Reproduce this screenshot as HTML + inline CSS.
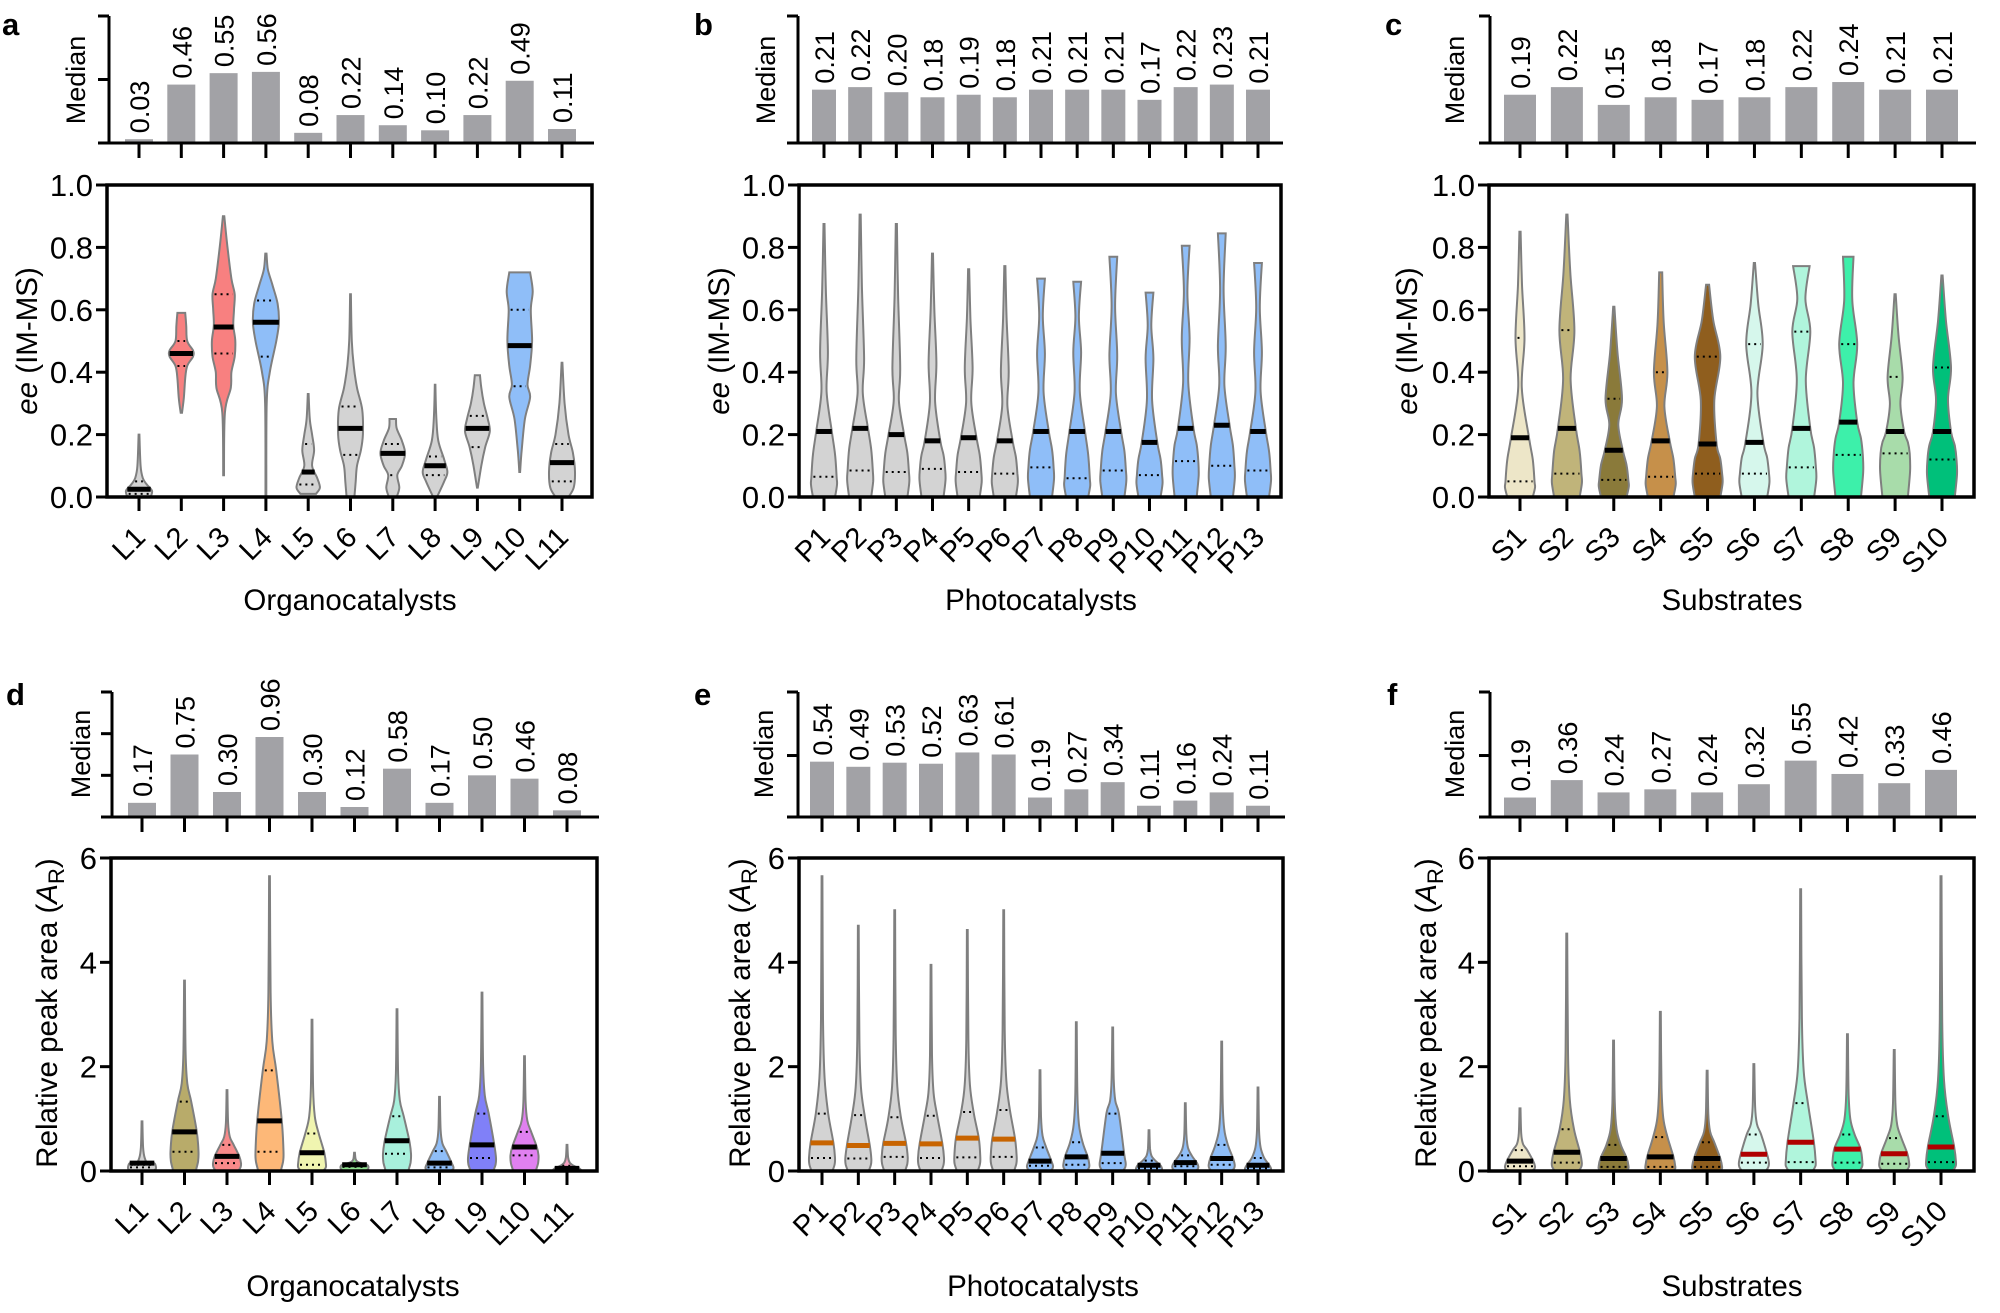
<!DOCTYPE html>
<html><head><meta charset="utf-8"><style>
html,body{margin:0;padding:0;background:#fff;}
svg{display:block;font-family:"Liberation Sans",Arial,sans-serif;}
</style></head><body>
<svg id="s" width="2000" height="1313" viewBox="0 0 2000 1313" xmlns="http://www.w3.org/2000/svg"></svg>
<script>
const S=document.getElementById('s');let out='';
function rng(n,p){return Array.from({length:n},(_,i)=>p+(i+1));}
function t(x,y,s,o){o=o||{};let a=`<text x="${x}" y="${y}" font-size="${o.fs||28}"`+(o.anchor?` text-anchor="${o.anchor}"`:'')+(o.rot!=null?` transform="rotate(${o.rot} ${x} ${y})"`:'')+(o.bold?' font-weight="bold"':'')+`>${s}</text>`;out+=a;}
function line(x1,y1,x2,y2,w,c,extra){out+=`<line x1="${x1}" y1="${y1}" x2="${x2}" y2="${y2}" stroke="${c||'#000'}" stroke-width="${w||3}" ${extra||''}/>`;}
function interp(pr,v){if(v<=pr[0][0])return pr[0][1];for(let i=1;i<pr.length;i++){if(v<=pr[i][0]){const a=pr[i-1],b=pr[i];return a[1]+(b[1]-a[1])*(v-a[0])/(b[0]-a[0]);}}return pr[pr.length-1][1];}
function spline(pts){let d=`M${pts[0][0].toFixed(1)},${pts[0][1].toFixed(1)}`;for(let i=0;i<pts.length-1;i++){const p0=pts[i-1]||pts[i],p1=pts[i],p2=pts[i+1],p3=pts[i+2]||p2;const k=6;d+=` C${(p1[0]+(p2[0]-p0[0])/k).toFixed(1)},${(p1[1]+(p2[1]-p0[1])/k).toFixed(1)} ${(p2[0]-(p3[0]-p1[0])/k).toFixed(1)},${(p2[1]-(p3[1]-p1[1])/k).toFixed(1)} ${p2[0].toFixed(1)},${p2[1].toFixed(1)}`;}return d;}
function violin(cx,Y,hw,pr,fill,med,q1,q3,mc,mw){
 const R=pr.map(p=>[cx+Math.max(p[1],0.02)*hw,Y(p[0])]);const L=pr.slice().reverse().map(p=>[cx-Math.max(p[1],0.02)*hw,Y(p[0])]);
 let d=spline(R)+` L${L[0][0].toFixed(1)},${L[0][1].toFixed(1)}`+spline(L).replace(/^M[^ C]+/,'')+'Z';
 out+=`<path d="${d}" fill="${fill}" stroke="#7f7f7f" stroke-width="2"/>`;
 [q1,q3].forEach(q=>{const w=interp(pr,q)*hw-2;if(w>2)line(cx-w,Y(q),cx+w,Y(q),2,'#000','stroke-dasharray="2,4"');});
 const w=Math.max(interp(pr,med)*hw,5);line(cx-w,Y(med),cx+w,Y(med),mw||5,mc||'#000');
}
const G='#d3d3d3',B='#8fbef8',RD='#f88080';
function profTop(mx,md,q1,q3,neck,bul,flat){return [[0,0.85],[q1*0.6,1],[q1,0.97],[(q1+md)/2,0.85],[md,0.6],[(md+q3)/2,neck],[q3,bul],[(q3+mx)/2,Math.max(0.12,bul*0.45)],[mx,flat||0.04]];}
function profBot(mx,md,q1,q3){return [[0,0.8],[q1*0.5,0.97],[q1,1],[md,0.88],[q3,0.48],[q3+(mx-q3)*0.15,0.2],[q3+(mx-q3)*0.4,0.08],[mx,0.03]];}
const RPA='Relative peak area (<tspan font-style="italic">A</tspan><tspan font-size="22" dy="7">R</tspan><tspan dy="-7">)</tspan>';
const EE='<tspan font-style="italic">ee</tspan> (IM-MS)';
const P=[
{l:'a',lx:2,ly:35,ax:109,box:[107,185,592,497],c0:139,c1:562,cats:rng(11,'L'),title:'Organocatalysts',tx:350,ty:610,ylab:EE,ylx:37,yly:341,medx:83,medy:80,bt:16,bb:143,bmax:1.0,bt2:[0.5],bw:28,hw:13,yt:[0,0.2,0.4,0.6,0.8,1.0],ymax:1,fmt:v=>v.toFixed(1),
 bars:[0.03,0.46,0.55,0.56,0.08,0.22,0.14,0.10,0.22,0.49,0.11],
 v:[
 [[[0,0.9],[0.02,1],[0.04,0.6],[0.06,0.3],[0.1,0.12],[0.2,0.03]],G,0.025,0.01,0.05],
 [[[0.27,0.05],[0.32,0.2],[0.38,0.3],[0.42,0.45],[0.45,0.9],[0.47,0.9],[0.5,0.45],[0.55,0.38],[0.59,0.3]],RD,0.46,0.42,0.50],
 [[[0.07,0.03],[0.27,0.1],[0.35,0.55],[0.4,0.6],[0.45,0.85],[0.5,0.9],[0.55,0.75],[0.6,0.8],[0.65,0.85],[0.7,0.6],[0.8,0.3],[0.9,0.05]],RD,0.545,0.46,0.65],
 [[[0,0.03],[0.3,0.06],[0.4,0.3],[0.5,0.8],[0.56,1],[0.62,0.9],[0.68,0.5],[0.73,0.15],[0.78,0.05]],B,0.56,0.45,0.63],
 [[[0.01,0.6],[0.03,0.9],[0.06,0.7],[0.1,0.3],[0.15,0.45],[0.2,0.3],[0.25,0.12],[0.33,0.03]],G,0.08,0.04,0.17],
 [[[0,0.3],[0.05,0.4],[0.1,0.5],[0.15,0.8],[0.2,0.95],[0.28,0.9],[0.35,0.5],[0.42,0.25],[0.5,0.1],[0.65,0.03]],G,0.22,0.135,0.29],
 [[[0,0.3],[0.03,0.5],[0.07,0.35],[0.1,0.7],[0.14,0.95],[0.18,0.7],[0.22,0.3],[0.25,0.25]],G,0.14,0.07,0.17],
 [[[0,0.15],[0.05,0.7],[0.08,0.95],[0.12,0.7],[0.18,0.25],[0.25,0.1],[0.36,0.02]],G,0.10,0.07,0.13],
 [[[0.03,0.03],[0.1,0.3],[0.16,0.6],[0.21,0.95],[0.25,0.8],[0.3,0.5],[0.35,0.3],[0.39,0.2]],G,0.22,0.16,0.26],
 [[[0.08,0.03],[0.15,0.15],[0.25,0.4],[0.32,0.8],[0.36,0.6],[0.42,0.8],[0.5,0.95],[0.6,0.85],[0.66,1],[0.72,0.8]],B,0.485,0.355,0.60],
 [[[0,0.5],[0.03,0.9],[0.08,1],[0.14,0.85],[0.2,0.5],[0.3,0.2],[0.43,0.03]],G,0.11,0.05,0.17]]},
{l:'b',lx:694,ly:35,ax:798,box:[799,185,1281,497],c0:824,c1:1258,cats:rng(13,'P'),title:'Photocatalysts',tx:1041,ty:610,ylab:EE,ylx:729,yly:341,medx:773,medy:80,bt:16,bb:143,bmax:0.5,bt2:[],bw:24,hw:13,yt:[0,0.2,0.4,0.6,0.8,1.0],ymax:1,fmt:v=>v.toFixed(1),
 bars:[0.21,0.22,0.20,0.18,0.19,0.18,0.21,0.21,0.21,0.17,0.22,0.23,0.21],
 v:[[.875,.21,.065,.465],[.905,.22,.085,.445],[.875,.20,.08,.415],[.78,.18,.09,.43],[.73,.19,.08,.415],[.74,.18,.075,.405],[.70,.21,.095,.46],[.69,.21,.06,.465],[.77,.21,.085,.455],[.655,.175,.07,.445],[.805,.22,.115,.51],[.845,.23,.10,.485],[.75,.21,.085,.465]].map((a,i)=>[profTop(a[0],a[1],a[2],a[3],0.2,0.3,i>=6?0.3:0.04),i>=6?B:G,a[1],a[2],a[3]])},
{l:'c',lx:1385,ly:35,ax:1490,box:[1489,185,1974,497],c0:1520,c1:1942,cats:rng(10,'S'),title:'Substrates',tx:1732,ty:610,ylab:EE,ylx:1417,yly:341,medx:1462,medy:80,bt:16,bb:143,bmax:0.5,bt2:[],bw:32,hw:15,yt:[0,0.2,0.4,0.6,0.8,1.0],ymax:1,fmt:v=>v.toFixed(1),
 bars:[0.19,0.22,0.15,0.18,0.17,0.18,0.22,0.24,0.21,0.21],
 v:[[.85,.19,.05,.51,'#ede6c8',.12,.3,.04],[.905,.22,.075,.535,'#c0b47a',.25,.5,.04],[.61,.15,.055,.315,'#8a7a3a',.3,.55,.04],[.72,.18,.065,.40,'#c6904a',.25,.45,.1],[.68,.17,.075,.45,'#8f5e1e',.45,.85,.1],[.75,.175,.075,.49,'#d6f7ec',.2,.55,.04],[.74,.22,.095,.53,'#b0f5dc',.3,.6,.55],[.77,.24,.135,.49,'#3df0aa',.35,.6,.35],[.65,.21,.14,.385,'#a8dcaa',.35,.5,.04],[.71,.21,.12,.415,'#00c07a',.4,.6,.04]].map(a=>[profTop(a[0],a[1],a[2],a[3],a[5],a[6],a[7]),a[4],a[1],a[2],a[3]])},
{l:'d',lx:6,ly:705,ax:112,box:[111,858,597,1171],c0:142,c1:567,cats:rng(11,'L'),title:'Organocatalysts',tx:353,ty:1296,ylab:RPA,ylx:57,yly:1013,medx:88,medy:754,bt:692,bb:817,bmax:1.5,bt2:[0.5,1.0],bw:28,hw:14,yt:[0,2,4,6],ymax:6,fmt:v=>v,
 bars:[0.17,0.75,0.30,0.96,0.30,0.12,0.58,0.17,0.50,0.46,0.08],
 v:[[.95,.15,.07,.12,G],[3.65,.75,.37,1.33,'#b8ab6a'],[1.55,.28,.15,.5,'#f88a8a'],[5.65,.96,.37,1.93,'#fdb878'],[2.9,.35,.12,.72,'#f0f5b0'],[.35,.12,.08,.15,'#90e090'],[3.1,.58,.33,1.05,'#a8f0dc'],[1.42,.15,.07,.38,B],[3.42,.5,.25,1.1,'#8080f8'],[2.2,.46,.3,.75,'#e080f0'],[.5,.05,.02,.1,'#f8a0c0']].map(a=>[profBot(a[0],a[1],a[2],a[3]),a[4],a[1],a[2],a[3]])},
{l:'e',lx:694,ly:705,ax:798,box:[799,858,1283,1171],c0:822,c1:1258,cats:rng(13,'P'),title:'Photocatalysts',tx:1043,ty:1296,ylab:RPA,ylx:750,yly:1013,medx:771,medy:754,bt:692,bb:817,bmax:1.22,bt2:[0.6],bw:24,hw:13,yt:[0,2,4,6],ymax:6,fmt:v=>v,
 bars:[0.54,0.49,0.53,0.52,0.63,0.61,0.19,0.27,0.34,0.11,0.16,0.24,0.11],
 v:[[5.65,.54,.25,1.1],[4.7,.49,.24,1.07],[5.0,.53,.27,1.03],[3.95,.52,.25,1.06],[4.62,.63,.26,1.13],[5.0,.61,.27,1.17],[1.93,.19,.1,.45],[2.85,.27,.12,.55],[2.75,.34,.15,1.1],[.78,.11,.05,.2],[1.3,.16,.09,.3],[2.48,.24,.12,.5],[1.6,.11,.05,.25]].map((a,i)=>[profBot(a[0],a[1],a[2],a[3]),i<6?G:B,a[1],a[2],a[3],i<6?'#c86400':'#000'])},
{l:'f',lx:1387,ly:705,ax:1490,box:[1489,858,1974,1171],c0:1520,c1:1941,cats:rng(10,'S'),title:'Substrates',tx:1732,ty:1296,ylab:RPA,ylx:1436,yly:1013,medx:1462,medy:754,bt:692,bb:817,bmax:1.22,bt2:[0.6],bw:32,hw:15,yt:[0,2,4,6],ymax:6,fmt:v=>v,
 bars:[0.19,0.36,0.24,0.27,0.24,0.32,0.55,0.42,0.33,0.46],
 v:[[1.2,.19,.09,.4,'#ede6c8'],[4.55,.36,.16,.8,'#c0b47a'],[2.5,.24,.08,.5,'#8a7a3a'],[3.05,.27,.08,.65,'#c6904a'],[1.92,.24,.08,.55,'#8f5e1e'],[2.05,.32,.16,.7,'#d6f7ec'],[5.4,.55,.17,1.3,'#b0f5dc'],[2.62,.42,.16,.7,'#3df0aa'],[2.32,.33,.14,.63,'#a8dcaa'],[5.65,.46,.17,1.05,'#00c07a']].map((a,i)=>[profBot(a[0],a[1],a[2],a[3]),a[4],a[1],a[2],a[3],i<5?'#000':'#b00000'])}
];
P.forEach(p=>{
 const [x0,y0,x1,y1]=p.box,n=p.cats.length,sp=(p.c1-p.c0)/(n-1),cx=i=>p.c0+i*sp;
 t(p.lx,p.ly,p.l,{fs:31,bold:true});
 const by=v=>p.bb-(p.bb-p.bt)*v/p.bmax;
 p.bars.forEach((v,i)=>{out+=`<rect x="${cx(i)-p.bw/2}" y="${by(v)}" width="${p.bw}" height="${p.bb-by(v)}" fill="#a2a2a6"/>`;t(cx(i)+10,by(v)-6,v.toFixed(2),{fs:27,rot:-90});line(cx(i),p.bb,cx(i),p.bb+15,3);});
 line(p.ax,p.bt,p.ax,p.bb+1.5,3);line(p.ax-11,p.bb,x1+2,p.bb,3);line(p.ax-11,p.bt,p.ax,p.bt,3);
 p.bt2.forEach(v=>line(p.ax-11,by(v),p.ax,by(v),3));
 t(p.medx+2,p.medy,'Median',{fs:27,rot:-90,anchor:'middle'});
 const Y=v=>y1-(y1-y0)*v/p.ymax;
 p.v.forEach((a,i)=>violin(cx(i),Y,p.hw,a[0],a[1],a[2],a[3],a[4],a[5]));
 out+=`<rect x="${x0}" y="${y0}" width="${x1-x0}" height="${y1-y0}" fill="none" stroke="#000" stroke-width="3.5"/>`;
 p.yt.forEach(v=>{line(x0-11,Y(v),x0,Y(v),3);t(x0-14,Y(v)+11,p.fmt(v),{fs:31,anchor:'end'});});
 p.cats.forEach((c,i)=>{line(cx(i),y1,cx(i),y1+14,3);t(cx(i)+8,y1+42,c,{fs:29,anchor:'end',rot:-45});});
 t(p.tx,p.ty,p.title,{fs:29.5,anchor:'middle'});
 out+=`<text x="${p.ylx}" y="${p.yly}" font-size="29.5" text-anchor="middle" transform="rotate(-90 ${p.ylx} ${p.yly})">${p.ylab}</text>`;
});
S.innerHTML=out;
</script>
</body></html>
